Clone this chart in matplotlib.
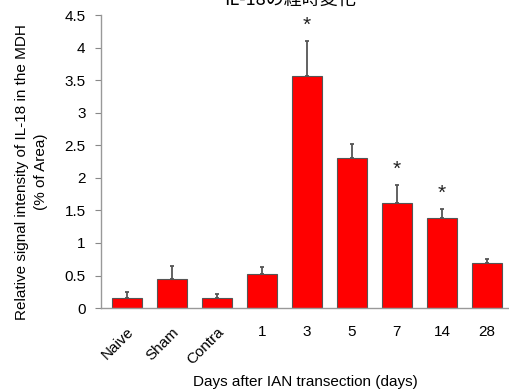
import matplotlib
matplotlib.use("Agg")
import matplotlib.pyplot as plt
from matplotlib.transforms import ScaledTranslation

plt.rcParams['font.family'] = ['Liberation Sans', 'Noto Sans CJK JP', 'DejaVu Sans']

categories = ["Naive", "Sham", "Contra", "1", "3", "5", "7", "14", "28"]
values = [0.16, 0.45, 0.16, 0.52, 3.57, 2.30, 1.62, 1.38, 0.69]
errors = [0.08, 0.20, 0.05, 0.11, 0.53, 0.22, 0.27, 0.14, 0.07]
significant = [False, False, False, False, True, False, True, True, False]
yticks = [0, 0.5, 1, 1.5, 2, 2.5, 3, 3.5, 4, 4.5]
ytick_labels = ["0", "0.5", "1", "1.5", "2", "2.5", "3", "3.5", "4", "4.5"]

fig = plt.figure(figsize=(5.09, 3.89), dpi=100)
ax = fig.add_axes([0.198, 0.208, 0.802, 0.753])

x = list(range(len(categories)))
ax.bar(x, values, width=0.68, color="#ff0000", edgecolor="#555555", linewidth=0.8, zorder=2)
ax.errorbar(x, values, yerr=[[0]*len(errors), errors], fmt="none", ecolor="#555555",
            elinewidth=1.3, capsize=1.5, capthick=1.3, zorder=3)
for xi, v, e, s in zip(x, values, errors, significant):
    if s:
        ax.text(xi, v + e + 0.1, "*", ha="center", va="bottom", fontsize=15, color="#222222")

ax.set_xlim(-0.58, 8.49)
ax.set_ylim(0, 4.5)
ax.set_yticks(yticks)
ax.set_yticklabels(ytick_labels, fontsize=11)
ax.set_xticks(x)
ax.set_xticklabels(categories, fontsize=11)
offset = ScaledTranslation(6 / 100, 2 / 100, fig.dpi_scale_trans)
for lbl, c in zip(ax.get_xticklabels(), categories):
    if not c.isdigit():
        lbl.set_rotation(45)
        lbl.set_ha("right")
        lbl.set_va("top")
        lbl.set_rotation_mode("anchor")
        lbl.set_transform(lbl.get_transform() + offset)
ax.tick_params(axis="x", length=0, pad=12)
ax.tick_params(axis="y", length=4, color="#888888", direction="out", pad=7)
for sp in ["top", "right"]:
    ax.spines[sp].set_visible(False)
for sp in ["left", "bottom"]:
    ax.spines[sp].set_color("#999999")
    ax.spines[sp].set_linewidth(1.0)

ax.set_xlabel("Days after IAN transection (days)", fontsize=11, labelpad=6)
ax.set_ylabel("Relative signal intensity of IL-18 in the MDH\n(% of Area)", fontsize=11,
              linespacing=1.45)
ax.yaxis.set_label_coords(-0.13, 0.465)
fig.text(0.57, 0.987, "IL-18の経時変化", ha="center", va="baseline", fontsize=13,
         family=['Noto Sans CJK JP', 'DejaVu Sans'])

fig.savefig("out.png", dpi=100)
